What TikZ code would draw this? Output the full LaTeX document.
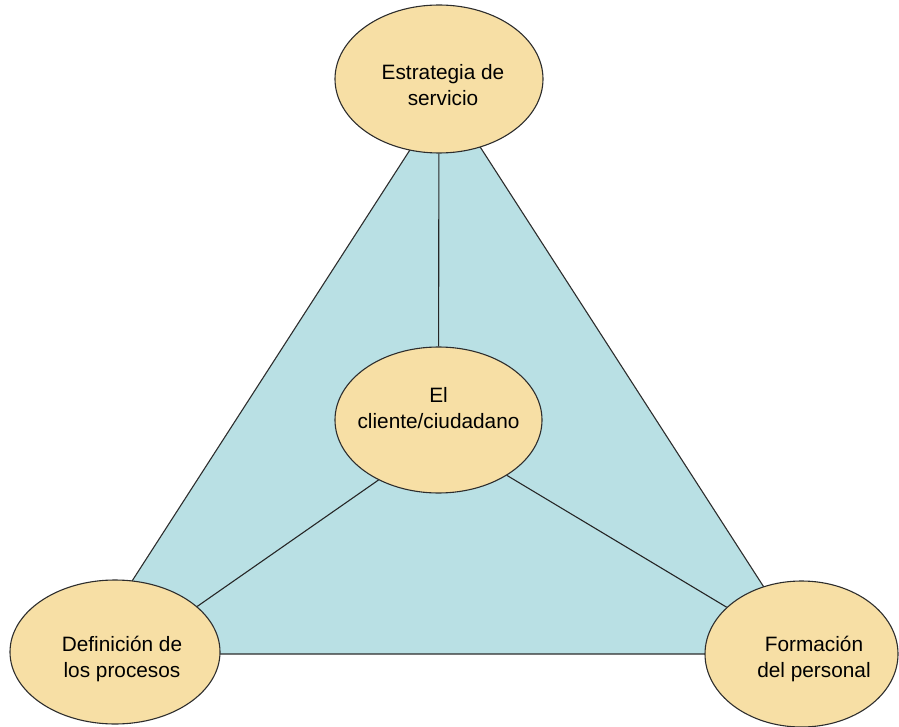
\documentclass[tikz,border=0pt]{standalone}
\usepackage{fontspec}
\setmainfont{Liberation Sans}
\usetikzlibrary{shapes.geometric, positioning}
\definecolor{ovalyellow}{RGB}{247,223,165}
\definecolor{triblue}{RGB}{185,224,228}
\definecolor{bordercolor}{RGB}{45,45,45}
\tikzset{
  oval/.style     = {ellipse, draw=bordercolor, line width=1.1pt, fill=ovalyellow, inner sep=0pt},
  ovaltext/.style = {align=center, inner sep=0pt, font=\fontsize{20.8}{25.5}\selectfont},
  tri/.style      = {draw=bordercolor, line width=1.1pt, fill=triblue, line join=miter},
  link/.style     = {line width=1.1pt, color=black!85},
}

\begin{document}
\begin{tikzpicture}[x=1pt, y=-1pt]
  \useasboundingbox (0,0) rectangle (899,727);

  \coordinate (apex) at (446,94);
  \coordinate (bl)   at (85,654);
  \coordinate (br)   at (807,654);
  \filldraw[tri] (apex) -- (bl) -- (br) -- cycle;

  \node[oval, minimum width=208pt, minimum height=148pt] (strat)  at (439,79)    {};
  \node[oval, minimum width=207pt, minimum height=146pt] (client) at (438.5,420) {};
  \node[oval, minimum width=210pt, minimum height=144pt] (defin)  at (115,652)   {};
  \node[oval, minimum width=193pt, minimum height=146pt] (form)   at (801.5,654) {};

  \draw[link] (strat) -- (client);
  \draw[link] (client.225) -- (defin.29);
  \draw[link] (client.321) -- (form.148);

  \node[ovaltext] (strat-txt)  at (443,85)    {Estrategia de\\servicio};
  \node[ovaltext] (client-txt) at (438.5,408) {El\\cliente/ciudadano};
  \node[ovaltext] (defin-txt)  at (122,659)   {Definición de\\los procesos};
  \node[ovaltext] (form-txt)   at (814,659)   {Formación\\del personal};
\end{tikzpicture}
\end{document}
